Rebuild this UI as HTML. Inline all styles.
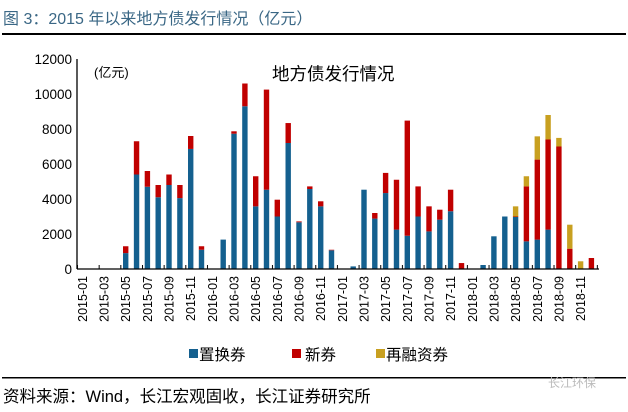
<!DOCTYPE html>
<html><head><meta charset="utf-8"><style>
body{margin:0;background:#fff;}
svg{display:block;font-family:"Liberation Sans","Noto Sans CJK SC",sans-serif;}
</style></head><body>
<svg width="628" height="412" xmlns="http://www.w3.org/2000/svg">
<defs><pattern id="tk" x="77" y="0" width="21.66" height="10" patternUnits="userSpaceOnUse"><rect x="0" y="0" width="1" height="10" fill="#000"/></pattern></defs>
<text x="3" y="24" font-size="16" fill="#3a6785">图 3：2015 年以来地方债发行情况（亿元）</text>
<rect x="2" y="33" width="624" height="2" fill="#000"/>
<g font-size="13.5" fill="#000" text-anchor="end">
<text x="72" y="64">12000</text><text x="72" y="99">10000</text><text x="72" y="134">8000</text>
<text x="72" y="169">6000</text><text x="72" y="204">4000</text><text x="72" y="239">2000</text><text x="72" y="274">0</text>
</g>
<text x="94" y="77" font-size="13" fill="#000">(亿元)</text>
<text x="272" y="80" font-size="17.5" fill="#000">地方债发行情况</text>
<g fill="#14608f">
<rect x="123.0" y="253.1" width="5.4" height="15.9"/>
<rect x="133.85" y="174.5" width="5.4" height="94.5"/>
<rect x="144.7" y="186.75" width="5.4" height="82.25"/>
<rect x="155.5" y="197.25" width="5.4" height="71.75"/>
<rect x="166.3" y="185" width="5.4" height="84"/>
<rect x="177.2" y="198.1" width="5.4" height="70.9"/>
<rect x="188.0" y="148.95" width="5.4" height="120.05"/>
<rect x="198.8" y="249.75" width="5.4" height="19.25"/>
<rect x="220.5" y="239.6" width="5.4" height="29.4"/>
<rect x="231.3" y="133.7" width="5.4" height="135.3"/>
<rect x="242.2" y="106.25" width="5.4" height="162.75"/>
<rect x="253.0" y="206.35" width="5.4" height="62.65"/>
<rect x="263.8" y="189.7" width="5.4" height="79.3"/>
<rect x="274.6" y="216.5" width="5.4" height="52.5"/>
<rect x="285.5" y="143" width="5.4" height="126"/>
<rect x="296.3" y="222.3" width="5.4" height="46.7"/>
<rect x="307.1" y="189.0" width="5.4" height="80"/>
<rect x="318.0" y="206.35" width="5.4" height="62.65"/>
<rect x="328.8" y="250.3" width="5.4" height="18.7"/>
<rect x="350.5" y="266.4" width="5.4" height="2.6"/>
<rect x="361.3" y="189.7" width="5.4" height="79.3"/>
<rect x="372.1" y="218.6" width="5.4" height="50.4"/>
<rect x="382.9" y="193.05" width="5.4" height="75.95"/>
<rect x="393.8" y="229.6" width="5.4" height="39.4"/>
<rect x="404.6" y="235.75" width="5.4" height="33.25"/>
<rect x="415.4" y="216.5" width="5.4" height="52.5"/>
<rect x="426.3" y="231.4" width="5.4" height="37.6"/>
<rect x="437.1" y="219.65" width="5.4" height="49.35"/>
<rect x="447.9" y="211.25" width="5.4" height="57.75"/>
<rect x="480.4" y="265" width="5.4" height="4"/>
<rect x="491.2" y="236.3" width="5.4" height="32.7"/>
<rect x="502.1" y="216.5" width="5.4" height="52.5"/>
<rect x="512.9" y="217" width="5.4" height="52"/>
<rect x="523.7" y="241.35" width="5.4" height="27.65"/>
<rect x="534.6" y="239.6" width="5.4" height="29.4"/>
<rect x="545.4" y="229.6" width="5.4" height="39.4"/>
</g>
<g fill="#c00000">
<rect x="123.0" y="246.25" width="5.4" height="6.85"/>
<rect x="133.85" y="141.25" width="5.4" height="33.25"/>
<rect x="144.7" y="171" width="5.4" height="15.75"/>
<rect x="155.5" y="185" width="5.4" height="12.25"/>
<rect x="166.3" y="174.5" width="5.4" height="10.5"/>
<rect x="177.2" y="185" width="5.4" height="13.1"/>
<rect x="188.0" y="136" width="5.4" height="12.95"/>
<rect x="198.8" y="246.25" width="5.4" height="3.5"/>
<rect x="231.3" y="131.3" width="5.4" height="2.4"/>
<rect x="242.2" y="83.5" width="5.4" height="22.75"/>
<rect x="253.0" y="176.25" width="5.4" height="30.1"/>
<rect x="263.8" y="89.6" width="5.4" height="100.1"/>
<rect x="274.6" y="199.7" width="5.4" height="16.8"/>
<rect x="285.5" y="123.05" width="5.4" height="19.95"/>
<rect x="296.3" y="221.4" width="5.4" height="0.9"/>
<rect x="307.1" y="186.4" width="5.4" height="2.6"/>
<rect x="318.0" y="201.3" width="5.4" height="5.05"/>
<rect x="328.8" y="249.75" width="5.4" height="0.55"/>
<rect x="372.1" y="213" width="5.4" height="5.6"/>
<rect x="382.9" y="172.9" width="5.4" height="20.15"/>
<rect x="393.8" y="179.75" width="5.4" height="49.85"/>
<rect x="404.6" y="120.6" width="5.4" height="115.15"/>
<rect x="415.4" y="186.4" width="5.4" height="30.1"/>
<rect x="426.3" y="206.35" width="5.4" height="25.05"/>
<rect x="437.1" y="209.7" width="5.4" height="9.95"/>
<rect x="447.9" y="189.7" width="5.4" height="21.55"/>
<rect x="458.8" y="263.05" width="5.4" height="5.95"/>
<rect x="512.9" y="216.5" width="5.4" height="0.5"/>
<rect x="523.7" y="186.4" width="5.4" height="54.95"/>
<rect x="534.6" y="159.6" width="5.4" height="80"/>
<rect x="545.4" y="139.5" width="5.4" height="90.1"/>
<rect x="556.2" y="146.5" width="5.4" height="122.5"/>
<rect x="567.1" y="248.7" width="5.4" height="20.3"/>
<rect x="588.7" y="258" width="5.4" height="11"/>
</g>
<g fill="#c8a020">
<rect x="512.9" y="206.35" width="5.4" height="10.15"/>
<rect x="523.7" y="176.25" width="5.4" height="10.15"/>
<rect x="534.6" y="136.35" width="5.4" height="23.25"/>
<rect x="545.4" y="115" width="5.4" height="24.5"/>
<rect x="556.2" y="137.9" width="5.4" height="8.6"/>
<rect x="567.1" y="224.7" width="5.4" height="24"/>
<rect x="577.9" y="261.3" width="5.4" height="7.7"/>
</g>
<rect x="77" y="265" width="521" height="4" fill="url(#tk)"/>
<line x1="77" y1="59" x2="77" y2="269" stroke="#000" stroke-width="1.3"/>
<line x1="77" y1="269" x2="599" y2="269" stroke="#000" stroke-width="1.3"/>
<g font-size="12.5" fill="#000" text-anchor="end">
<text transform="translate(86.9,276) rotate(-90)">2015-01</text>
<text transform="translate(108.6,276) rotate(-90)">2015-03</text>
<text transform="translate(130.2,276) rotate(-90)">2015-05</text>
<text transform="translate(151.9,276) rotate(-90)">2015-07</text>
<text transform="translate(173.5,276) rotate(-90)">2015-09</text>
<text transform="translate(195.2,276) rotate(-90)">2015-11</text>
<text transform="translate(216.9,276) rotate(-90)">2016-01</text>
<text transform="translate(238.5,276) rotate(-90)">2016-03</text>
<text transform="translate(260.2,276) rotate(-90)">2016-05</text>
<text transform="translate(281.8,276) rotate(-90)">2016-07</text>
<text transform="translate(303.5,276) rotate(-90)">2016-09</text>
<text transform="translate(325.2,276) rotate(-90)">2016-11</text>
<text transform="translate(346.8,276) rotate(-90)">2017-01</text>
<text transform="translate(368.5,276) rotate(-90)">2017-03</text>
<text transform="translate(390.1,276) rotate(-90)">2017-05</text>
<text transform="translate(411.8,276) rotate(-90)">2017-07</text>
<text transform="translate(433.5,276) rotate(-90)">2017-09</text>
<text transform="translate(455.1,276) rotate(-90)">2017-11</text>
<text transform="translate(476.8,276) rotate(-90)">2018-01</text>
<text transform="translate(498.4,276) rotate(-90)">2018-03</text>
<text transform="translate(520.1,276) rotate(-90)">2018-05</text>
<text transform="translate(541.8,276) rotate(-90)">2018-07</text>
<text transform="translate(563.4,276) rotate(-90)">2018-09</text>
<text transform="translate(585.1,276) rotate(-90)">2018-11</text>
</g>
<rect x="189" y="349" width="9" height="9" fill="#14608f"/><text x="199" y="360" font-size="15.5">置换券</text>
<rect x="292" y="349" width="9" height="9" fill="#c00000"/><text x="305" y="360" font-size="15.5">新券</text>
<rect x="376" y="349" width="9" height="9" fill="#c8a020"/><text x="386" y="360" font-size="15.5">再融资券</text>
<rect x="2" y="377" width="624" height="1.5" fill="#000"/>
<text x="3" y="402" font-size="16.5" fill="#000">资料来源：Wind，长江宏观固收，长江证券研究所</text>
<text x="548" y="387" font-size="12" fill="#bbb">长江环保</text>
</svg>
</body></html>
